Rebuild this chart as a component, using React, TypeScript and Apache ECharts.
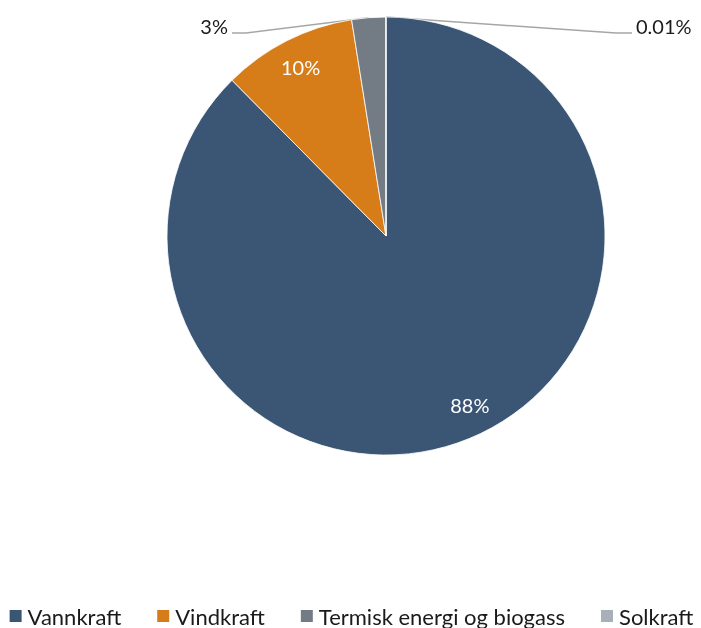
import React, { useEffect, useRef } from "react";
import * as echarts from "echarts";

// Andel av kraftproduksjonen etter kilde (prosent)
const categories = ["Vannkraft", "Vindkraft", "Termisk energi og biogass", "Solkraft"];
const shares = [87.6, 9.9, 2.5, 0.01];
const colors = ["#3a5674", "#d67d1a", "#737b84", "#a9afb6"];

const FONT = "Lato";
const CX = 386;
const CY = 236;
const R = 219;

function formatShare(v: number): string {
  return v >= 1 ? `${Math.round(v)}%` : `${v}%`;
}

export default function App() {
  const ref = useRef<HTMLDivElement>(null);

  useEffect(() => {
    if (!ref.current) return;
    const chart = echarts.init(ref.current, undefined, { renderer: "svg" });
    chart.setOption({
      animation: false,
      color: colors,
      legend: {
        bottom: -4,
        left: "center",
        icon: "rect",
        itemWidth: 14,
        itemHeight: 14,
        itemGap: 34,
        textStyle: { fontFamily: FONT, fontSize: 22, color: "#1a1a1a" },
        data: categories,
      },
      series: [
        {
          type: "pie",
          center: [CX, CY],
          radius: R,
          startAngle: 90,
          clockwise: true,
          avoidLabelOverlap: false,
          itemStyle: { borderColor: "#fff", borderWidth: 0.8 },
          label: {
            fontFamily: FONT,
            fontSize: 20,
            formatter: (p: any) => formatShare(p.value),
          },
          labelLine: {
            lineStyle: { color: "#a6a6a6", width: 1.5 },
            smooth: false,
          },
          labelLayout: (p: any) => {
            const i = p.dataIndex;
            const rect = p.labelRect;
            if (i <= 1) {
              // inner labels pushed out towards the rim, the large one
              // turned a little back towards the bottom-right
              const lx = rect.x + rect.width / 2 - CX;
              const ly = rect.y + rect.height / 2 - CY;
              const k = 1.68;
              const turn = i === 0 ? (-4 * Math.PI) / 180 : 0;
              const c = Math.cos(turn);
              const s = Math.sin(turn);
              return {
                x: CX + (lx * c - ly * s) * k,
                y: CY + (lx * s + ly * c) * k,
                align: "center",
                verticalAlign: "middle",
              };
            }
            const start = p.labelLinePoints ? p.labelLinePoints[0] : [CX, CY - R];
            if (i === 2) {
              return {
                x: 228,
                y: 26,
                align: "right",
                verticalAlign: "middle",
                labelLinePoints: [start, [246, 33], [232, 33]],
              };
            }
            return {
              x: 636,
              y: 26,
              align: "left",
              verticalAlign: "middle",
              labelLinePoints: [start, [616, 33], [632, 33]],
            };
          },
          data: categories.map((name, i) => ({
            name,
            value: shares[i],
            label:
              i <= 1
                ? { position: "inside", color: "#ffffff" }
                : { position: "outside", color: "#1a1a1a" },
            labelLine: { show: i > 1 },
          })),
        },
      ],
    });
    return () => chart.dispose();
  }, []);

  return (
    <div
      ref={ref}
      style={{ position: "fixed", left: 0, top: 0, width: 701, height: 628 }}
    />
  );
}
